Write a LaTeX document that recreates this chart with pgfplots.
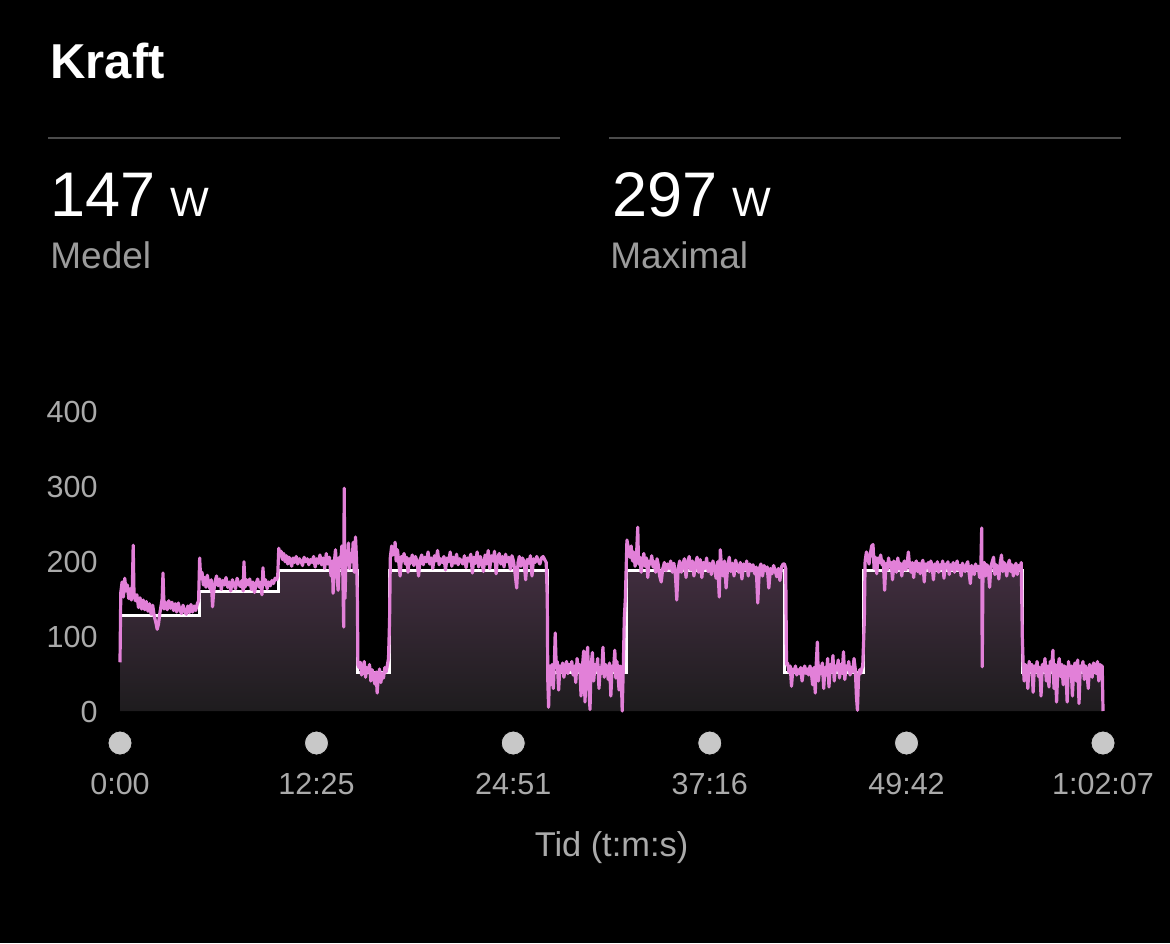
\documentclass[border=0pt]{standalone}
\usepackage{fontspec}
\setmainfont{Liberation Sans}
\usepackage{pgfplots}
\pgfplotsset{compat=1.18}
\definecolor{pinkline}{RGB}{226,128,216}
\definecolor{filltop}{RGB}{64,45,62}
\definecolor{fillbot}{RGB}{30,28,30}
\definecolor{ticklab}{RGB}{170,170,170}
\definecolor{dotgray}{RGB}{200,200,200}
\definecolor{sepgray}{RGB}{75,75,75}
\definecolor{subgray}{RGB}{155,155,155}
\begin{document}
\begin{tikzpicture}
\path[use as bounding box, fill=black] (0,0) rectangle (585pt,471.5pt);
\node[anchor=base west, inner sep=0pt, text=white, font=\fontsize{24.5}{28}\selectfont\bfseries] at (25pt,432pt) {Kraft};
\draw[sepgray, line width=1.2pt] (24pt,402.5pt) -- (280pt,402.5pt);
\draw[sepgray, line width=1.2pt] (304.5pt,402.5pt) -- (560.5pt,402.5pt);
\node[anchor=base west, inner sep=0pt, text=white] at (25pt,363pt) {\fontsize{31.5}{36}\selectfont 147\hspace{7.5pt}\fontsize{20.5}{24}\selectfont W};
\node[anchor=base west, inner sep=0pt, text=white] at (306pt,363pt) {\fontsize{31.5}{36}\selectfont 297\hspace{7.5pt}\fontsize{20.5}{24}\selectfont W};
\node[anchor=base west, inner sep=0pt, text=subgray, font=\fontsize{18.5}{22}\selectfont] at (25pt,337pt) {Medel};
\node[anchor=base west, inner sep=0pt, text=subgray, font=\fontsize{18.5}{22}\selectfont] at (305pt,337pt) {Maximal};
\begin{axis}[
  at={(60pt,116pt)}, anchor=south west,
  scale only axis, width=491.5pt, height=150pt,
  xmin=0, xmax=3727, ymin=0, ymax=400,
  axis line style={draw=none},
  tick style={draw=none},
  clip=false,
  xtick={0,745,1491,2236,2982,3727},
  xticklabels={0:00,12:25,24:51,37:16,49:42,1:02:07},
  ytick={0,100,200,300,400},
  /pgf/number format/assume math mode=true,
  tick label style={text=ticklab, font=\fontsize{15.25}{18}\selectfont, inner sep=0pt},
  xticklabel style={anchor=base, yshift=-41.5pt},
  yticklabel style={anchor=base east, xshift=-11pt, yshift=-5.5pt},
  xlabel={Tid (t:m:s)},
  xlabel style={at={(axis description cs:0.5,0)}, anchor=base, yshift=-72.5pt, text=ticklab, font=\fontsize{17.2}{20}\selectfont, inner sep=0pt},
]
% target (step) area
\addplot[draw=none, top color=filltop, bottom color=fillbot] coordinates {
(0,127)(300,127)(300,159)(600,159)(600,187)(900,187)(900,52)(1020,52)(1020,187)(1620,187)(1620,52)(1920,52)(1920,187)(2520,187)(2520,52)(2820,52)(2820,187)(3420,187)(3420,52)(3727,52)
} \closedcycle;
% target line
\addplot[white, line width=1.5pt] coordinates {
(0,127)(300,127)(300,159)(600,159)(600,187)(900,187)(900,52)(1020,52)(1020,187)(1620,187)(1620,52)(1920,52)(1920,187)(2520,187)(2520,52)(2820,52)(2820,187)(3420,187)(3420,52)(3727,52)
};
% power
\addplot[pinkline, line width=1.6pt, line join=round] coordinates {
(0,65)(3,158)(8,172)(13,152)(18,177)(23,160)(28,168)(33,150)(38,163)(43,148)(47,168)(50,221)(53,158)(58,147)(64,155)(70,138)(76,151)(82,136)(88,148)(94,135)(100,146)(106,133)(112,143)(118,129)(124,141)(130,126)(136,118)(141,109)(146,116)(151,130)(156,141)(160,150)(163,184)(167,136)(173,145)(179,135)(185,147)(191,137)(197,145)(203,134)(209,143)(215,132)(221,144)(227,135)(233,130)(239,141)(245,133)(251,129)(257,140)(263,131)(269,142)(275,132)(281,140)(287,134)(293,143)(298,147)
(302,204)(306,176)(311,185)(316,168)(321,178)(326,165)(331,181)(336,170)(341,163)(346,175)(351,139)(355,158)(360,172)(366,180)(372,167)(378,176)(384,162)(390,174)(396,168)(402,178)(408,165)(414,172)(420,160)(426,175)(432,169)(438,163)(444,177)(450,170)(456,166)(462,174)(467,160)(470,199)(474,165)(480,175)(486,168)(492,176)(498,162)(504,172)(510,158)(516,170)(522,176)(528,165)(534,172)(538,155)(542,191)(546,168)(552,175)(558,163)(564,172)(570,167)(576,174)(582,170)(588,177)(594,175)(598,180)
(602,217)(606,208)(611,213)(616,202)(621,210)(626,199)(631,207)(636,196)(641,205)(646,200)(651,193)(656,204)(662,198)(668,206)(674,196)(680,203)(686,200)(692,194)(698,205)(704,199)(710,203)(716,195)(722,202)(728,198)(734,206)(740,192)(746,203)(752,197)(758,208)(764,195)(770,204)(776,190)(782,210)(788,196)(794,205)(800,180)(805,200)(808,157)(812,196)(817,215)(822,185)(827,161)(832,205)(837,198)(841,220)(845,180)(848,112)(850,297)(853,150)(857,206)(862,195)(866,224)(870,190)(875,210)(880,199)(884,225)(888,185)(893,232)(897,200)
(900,150)(902,62)(906,58)(911,65)(916,48)(921,56)(926,66)(931,45)(936,58)(941,52)(946,62)(951,40)(956,55)(961,48)(966,36)(971,52)(975,24)(979,44)(984,56)(989,38)(994,50)(999,44)(1004,58)(1009,52)(1014,62)(1018,70)
(1022,120)(1025,205)(1030,220)(1035,208)(1040,212)(1043,225)(1047,200)(1052,215)(1057,198)(1062,180)(1067,206)(1072,200)(1077,210)(1082,196)(1087,205)(1092,185)(1097,203)(1102,197)(1108,208)(1114,194)(1120,206)(1126,200)(1132,180)(1138,202)(1144,208)(1150,195)(1156,205)(1162,199)(1168,212)(1174,196)(1180,204)(1186,190)(1192,207)(1198,200)(1204,214)(1210,195)(1216,203)(1222,198)(1228,206)(1234,188)(1240,204)(1246,199)(1252,212)(1258,193)(1264,205)(1270,197)(1276,209)(1282,195)(1288,203)(1294,200)(1300,196)(1306,207)(1312,191)(1318,204)(1324,200)(1330,209)(1336,184)(1342,205)(1348,197)(1354,212)(1360,192)(1366,206)(1372,199)(1378,186)(1384,208)(1390,196)(1396,214)(1402,190)(1408,207)(1414,200)(1420,213)(1426,183)(1432,205)(1438,210)(1444,196)(1450,206)(1456,192)(1462,209)(1468,199)(1474,205)(1480,189)(1486,207)(1492,200)(1498,183)(1504,164)(1509,198)(1514,206)(1520,193)(1526,204)(1532,199)(1538,175)(1544,202)(1550,197)(1556,207)(1562,180)(1568,203)(1574,198)(1580,206)(1586,200)(1592,196)(1598,204)(1604,206)(1610,202)(1616,198)
(1620,150)(1622,40)(1625,5)(1629,60)(1633,35)(1638,62)(1643,30)(1647,65)(1650,104)(1654,58)(1658,66)(1663,28)(1668,60)(1673,52)(1678,64)(1683,45)(1688,58)(1693,66)(1698,50)(1703,62)(1708,55)(1713,66)(1718,48)(1723,60)(1728,38)(1733,70)(1738,54)(1743,62)(1748,20)(1753,58)(1758,80)(1763,12)(1768,64)(1773,85)(1778,30)(1782,2)(1786,60)(1791,78)(1796,40)(1801,62)(1806,55)(1811,70)(1816,30)(1821,58)(1826,50)(1831,85)(1836,45)(1841,62)(1846,58)(1851,42)(1856,64)(1861,20)(1866,60)(1871,54)(1876,81)(1880,44)(1884,66)(1888,50)(1892,28)(1896,60)(1900,56)(1904,0)(1908,55)(1912,124)(1916,150)
(1922,228)(1928,215)(1933,205)(1938,220)(1943,200)(1948,212)(1953,193)(1958,205)(1963,245)(1966,196)(1971,205)(1976,185)(1981,200)(1986,210)(1991,193)(1996,204)(2001,178)(2006,200)(2011,196)(2016,207)(2021,192)(2026,199)(2031,185)(2036,203)(2041,195)(2046,180)(2052,172)(2058,190)(2064,198)(2070,187)(2076,196)(2082,190)(2088,200)(2094,185)(2100,197)(2106,180)(2111,148)(2116,190)(2122,200)(2128,185)(2134,196)(2140,203)(2146,178)(2152,198)(2158,206)(2164,188)(2170,200)(2176,180)(2182,196)(2188,205)(2194,185)(2200,202)(2206,178)(2212,198)(2218,190)(2224,204)(2230,186)(2236,197)(2242,182)(2248,200)(2254,191)(2260,177)(2266,199)(2272,152)(2276,215)(2281,190)(2286,180)(2292,200)(2298,164)(2304,193)(2310,205)(2316,186)(2322,197)(2328,180)(2334,201)(2340,192)(2346,185)(2352,198)(2358,176)(2364,196)(2370,188)(2376,200)(2382,180)(2388,196)(2394,187)(2400,195)(2406,183)(2412,192)(2418,144)(2424,190)(2430,196)(2436,180)(2442,194)(2448,187)(2454,192)(2460,164)(2466,190)(2472,183)(2478,194)(2484,187)(2490,179)(2496,190)(2502,174)(2508,192)(2514,196)(2519,196)(2524,190)
(2527,62)(2531,64)(2536,52)(2541,60)(2546,33)(2551,56)(2556,52)(2561,60)(2566,48)(2571,55)(2576,50)(2581,58)(2586,40)(2591,54)(2596,60)(2601,50)(2606,56)(2611,48)(2616,60)(2621,52)(2626,35)(2631,58)(2636,24)(2640,65)(2644,92)(2648,40)(2653,60)(2658,50)(2663,64)(2668,30)(2673,58)(2678,48)(2683,70)(2688,32)(2693,62)(2698,52)(2703,74)(2708,40)(2713,60)(2718,55)(2723,68)(2728,44)(2733,62)(2738,50)(2743,79)(2748,42)(2753,60)(2758,55)(2763,66)(2768,48)(2773,58)(2778,52)(2783,70)(2788,55)(2792,20)(2796,1)(2800,45)(2804,55)(2808,50)(2812,56)(2816,60)
(2822,120)(2825,200)(2830,212)(2835,205)(2840,196)(2845,210)(2850,220)(2855,222)(2859,190)(2864,205)(2869,183)(2874,204)(2879,198)(2884,208)(2889,195)(2894,200)(2899,161)(2904,197)(2909,188)(2914,204)(2919,192)(2924,198)(2929,175)(2934,200)(2939,195)(2944,185)(2949,204)(2954,190)(2959,197)(2964,180)(2969,195)(2974,200)(2979,188)(2984,196)(2989,212)(2994,192)(2999,185)(3004,198)(3009,178)(3014,195)(3019,200)(3024,186)(3029,197)(3034,183)(3039,196)(3044,201)(3049,172)(3054,196)(3059,191)(3064,198)(3069,186)(3074,200)(3079,193)(3084,175)(3089,196)(3094,188)(3099,199)(3104,185)(3109,195)(3114,190)(3119,200)(3124,177)(3129,196)(3134,191)(3139,199)(3144,182)(3149,195)(3154,189)(3159,198)(3164,185)(3169,194)(3174,200)(3179,188)(3184,194)(3189,180)(3194,197)(3199,191)(3204,186)(3209,195)(3214,199)(3219,185)(3224,170)(3229,194)(3234,190)(3239,182)(3244,196)(3249,188)(3254,193)(3259,178)(3264,195)(3267,244)(3269,59)(3272,190)(3277,198)(3282,180)(3287,195)(3292,190)(3297,165)(3302,193)(3307,199)(3312,205)(3317,182)(3322,195)(3327,190)(3332,176)(3337,197)(3342,208)(3347,186)(3352,198)(3357,192)(3362,180)(3367,196)(3372,201)(3377,186)(3382,195)(3387,180)(3392,190)(3397,197)(3402,182)(3407,194)(3412,190)(3417,198)
(3421,100)(3424,65)(3428,40)(3432,62)(3437,58)(3442,30)(3447,66)(3452,55)(3457,62)(3462,25)(3467,60)(3472,52)(3477,66)(3482,46)(3487,58)(3492,20)(3497,62)(3502,54)(3507,70)(3512,40)(3517,60)(3522,32)(3527,66)(3532,55)(3537,81)(3541,30)(3546,62)(3551,12)(3556,58)(3561,70)(3566,46)(3571,62)(3576,35)(3581,60)(3586,55)(3591,12)(3596,66)(3601,50)(3606,60)(3611,20)(3616,58)(3621,64)(3626,40)(3631,68)(3636,10)(3641,60)(3646,55)(3651,66)(3656,42)(3661,60)(3666,52)(3671,30)(3676,62)(3681,58)(3686,45)(3691,64)(3696,60)(3701,50)(3706,66)(3711,40)(3716,62)(3721,58)(3724,60)(3727,0)
};
% tick dots
\addplot[only marks, mark=*, mark size=6pt, mark options={draw=none, fill=dotgray}] coordinates {
(0,-42.7)(745,-42.7)(1491,-42.7)(2236,-42.7)(2982,-42.7)(3727,-42.7)
};
\end{axis}
\end{tikzpicture}
\end{document}
